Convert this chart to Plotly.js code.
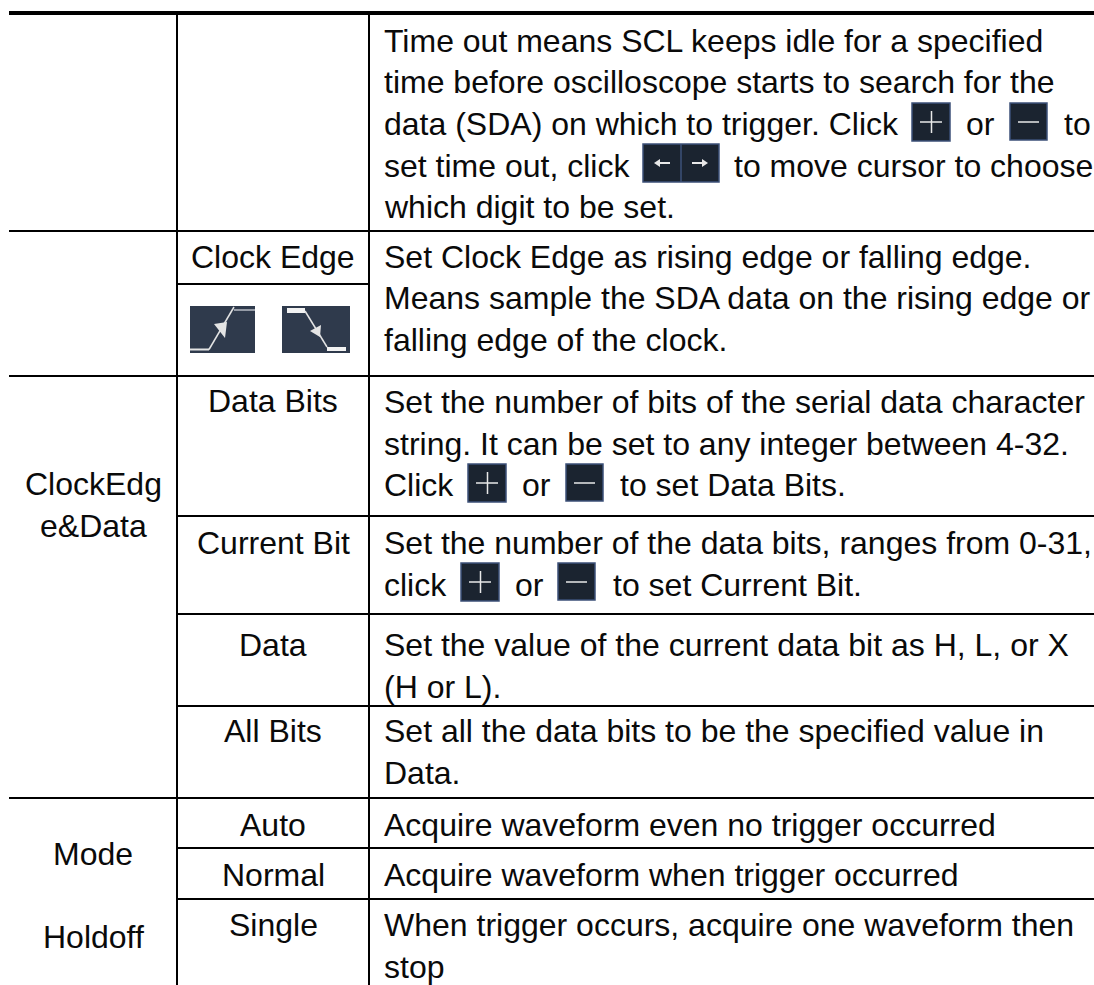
<!DOCTYPE html>
<html><head><meta charset="utf-8">
<script src="https://cdn.plot.ly/plotly-3.0.1.min.js"></script>
<style>html,body{margin:0;padding:0;background:#fff}#c{width:1094px;height:985px}</style>
</head><body><div id="c"></div>
<script>
// text: [string, x, baseline y, anchor]
const descText = [
 ["Time out means SCL keeps idle for a specified",384,51],
 ["time before oscilloscope starts to search for the",384,92.5],
 ["data (SDA) on which to trigger. Click",384,134],
 ["or",966,134],
 ["to",1064,134],
 ["set time out, click",384,176],
 ["to move cursor to choose",734,176],
 ["which digit to be set.",384,217.5],
 ["Set Clock Edge as rising edge or falling edge.",384,267],
 ["Means sample the SDA data on the rising edge or",384,308.5],
 ["falling edge of the clock.",384,350.5],
 ["Set the number of bits of the serial data character",384,412],
 ["string. It can be set to any integer between 4-32.",384,454],
 ["Click",384,495.5],
 ["or",522,495.5],
 ["to set Data Bits.",620,495.5],
 ["Set the number of the data bits, ranges from 0-31,",384,553],
 ["click",384,595],
 ["or",515,595],
 ["to set Current Bit.",613,595],
 ["Set the value of the current data bit as H, L, or X",384,655],
 ["(H or L).",384,697.5],
 ["Set all the data bits to be the specified value in",384,741.5],
 ["Data.",384,783.5],
 ["Acquire waveform even no trigger occurred",384,835.5],
 ["Acquire waveform when trigger occurred",384,885.5],
 ["When trigger occurs, acquire one waveform then",384,935.5],
 ["stop",384,977.5]
];
const optionText = [
 ["Clock Edge",267],["Data Bits",411.5],["Current Bit",553],["Data",655],
 ["All Bits",741.5],["Auto",835.5],["Normal",885.5],["Single",935]
];
const groupText = [["ClockEdg",494],["e&Data",536],["Mode",864.5],["Holdoff",947.5]];

const vLines = [[177,14,985],[369,14,985]];
const hLines = [[9,1094,13,4],[9,1094,231,2],[177,369,284,2],[9,1094,376,2],[177,1094,516,2],[177,1094,614,2],[177,1094,706,2],[9,1094,798,2],[177,1094,848,2],[177,1094,899,2]];

const plusBtns = [[912,103],[468,464],[461,563]];
const minusBtns = [[1010,103],[566,464],[558,563]];
const arrowBtn = [643,144];

const FONT = 32, BASE_OFF = 10.2;
const font = {family:'"Liberation Sans", Arial, sans-serif', size:FONT, color:'#0a0a0a'};
const ann = (t,x,y,anchor)=>({text:t,x:x,y:y-BASE_OFF,xref:'x',yref:'y',xanchor:anchor,yanchor:'middle',showarrow:false,font:font,borderpad:0,borderwidth:0});
const annotations = [
 ...descText.map(r=>ann(r[0],r[1],r[2],'left')),
 ...optionText.map(r=>ann(r[0],273,r[1],'center')),
 ...groupText.map(r=>ann(r[0],93,r[1],'center'))
];

const shapes = [];
const line = (x0,y0,x1,y1,w,c)=>shapes.push({type:'line',xref:'x',yref:'y',x0,y0,x1,y1,line:{width:w,color:c||'#000'}});
const path = (d,fill,lw,c)=>shapes.push({type:'path',xref:'x',yref:'y',path:d,fillcolor:fill||'rgba(0,0,0,0)',line:{width:lw||0,color:c||'rgba(0,0,0,0)'}});
const rect = (x0,y0,x1,y1,fill,lw,c)=>shapes.push({type:'rect',xref:'x',yref:'y',x0,y0,x1,y1,fillcolor:fill,line:{width:lw||0,color:c||'rgba(0,0,0,0)'}});
hLines.forEach(h=>line(h[0],h[2],h[1],h[2],h[3]));
vLines.forEach(v=>line(v[0],v[1],v[0],v[2],2));

const BTN='#1b2430', EDGE='#3c5078', W='#e8e8e8';
plusBtns.forEach(([x,y])=>{rect(x,y,x+38,y+38,BTN,1.5,EDGE);line(x+8,y+19,x+30,y+19,1.5,W);line(x+19.5,y+8,x+19.5,y+30,1.5,W);});
minusBtns.forEach(([x,y])=>{rect(x,y,x+37,y+37,BTN,1.5,EDGE);line(x+8,y+19,x+29,y+19,1.5,W);});
(function(){const [x,y]=arrowBtn;
 rect(x,y,x+76,y+38,BTN,1.5,EDGE);line(x+38,y,x+38,y+38,1.5,EDGE);
 line(x+15,y+19,x+27,y+19,2,W);path(`M${x+11} ${y+19} L${x+17} ${y+15} L${x+17} ${y+23} Z`,W);
 line(x+49,y+19,x+61,y+19,2,W);path(`M${x+65} ${y+19} L${x+59} ${y+15} L${x+59} ${y+23} Z`,W);
})();
const ICON='#2f3a4c', LN='#e4e4e4';
rect(190,306,255,353,ICON);
line(190,349.5,209,349.5,2,LN);line(209,349.5,234,307,1.5,LN);line(234,310,255,310,1.5,'#b8bcc4');
path('M214 324 L227 322 L225 338 Z',LN);
rect(282,306,350,353,ICON);
rect(287,308,305,313,'#f2f2f2');line(305,311,327,347,1.5,LN);rect(327,347,346,351,'#f2f2f2');
path('M310 331 L321 325 L320 337 Z',LN);

Plotly.newPlot('c',[{x:[0,1094],y:[0,985],mode:'markers',marker:{opacity:0},hoverinfo:'skip',showlegend:false}],{
 width:1094,height:985,margin:{l:0,r:0,t:0,b:0,pad:0},paper_bgcolor:'#fff',plot_bgcolor:'#fff',
 xaxis:{range:[0,1094],visible:false},yaxis:{range:[985,0],visible:false},
 showlegend:false,annotations:annotations,shapes:shapes
},{staticPlot:true,displayModeBar:false});
</script></body></html>
